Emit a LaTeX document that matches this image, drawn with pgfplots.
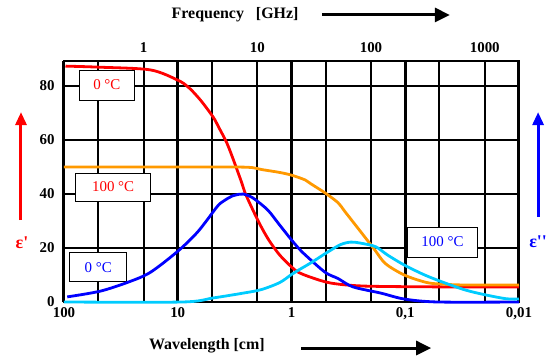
\documentclass[border=0pt]{standalone}
\usepackage{pgfplots}
\pgfplotsset{compat=1.18}
\usepackage{fontspec}
\setmainfont{Liberation Serif}
\usetikzlibrary{arrows.meta}
\definecolor{cOrange}{RGB}{255,153,0}
\definecolor{cCyan}{RGB}{0,204,255}
\begin{document}
\begin{tikzpicture}
\begin{axis}[name=ax,
  width=455bp, height=241bp, scale only axis,
  xmode=log, x dir=reverse, xmin=0.01, xmax=100, ymin=0, ymax=89.3,
  clip=false,
  xtick={100,10,1,0.1,0.01}, xticklabels={100,10,1,{0,1},{0,01}},
  minor xtick={50,20,5,2,0.5,0.2,0.05,0.02},
  ytick={0,20,40,60,80},
  xmajorgrids, xminorgrids, ymajorgrids,
  major x grid style={black, line width=3bp},
  minor x grid style={black, line width=2bp},
  major y grid style={black, line width=1.3bp},
  major tick length=0pt, minor tick length=0pt,
  axis line style={black, line width=2.6bp},
  /pgf/number format/assume math mode=true,
  tick label style={font=\bfseries\fontsize{15}{18}\selectfont},
  xticklabel style={yshift=-2.5bp},
  yticklabel style={xshift=-6bp},
]
\node[draw=black, line width=1bp, fill=white, minimum width=55bp, minimum height=30bp, inner sep=0pt, text=red, font=\fontsize{15}{18}\selectfont] at (axis cs:42,80.4) {0 °C};
\node[draw=black, line width=1bp, fill=white, minimum width=75bp, minimum height=28bp, inner sep=0pt, text=red, font=\fontsize{15}{18}\selectfont] at (axis cs:37,42.6) {100 °C};
\node[draw=black, line width=1bp, fill=white, minimum width=57bp, minimum height=29bp, inner sep=0pt, text=blue, font=\fontsize{15}{18}\selectfont] at (axis cs:50,12.8) {0 °C};
\node[draw=black, line width=1bp, fill=white, minimum width=70bp, minimum height=30bp, inner sep=0pt, text=blue, font=\fontsize{15}{18}\selectfont] at (axis cs:0.0471,22.2) {100 °C};

% eps' at 0 C
\addplot[red, line width=2.8bp, smooth, tension=0.5] coordinates {
(97,87.4) (48.2,87) (17.4,86) (10,82.2) (8.02,79.5) (6.31,74.8) (4.88,68.5) (4.37,64.8) (3.70,58.9) (3.19,51.9) (2.75,44.4) (2.51,39.6) (1.94,29.6) (1.585,23) (1.27,17.4) (1,13) (0.869,11) (0.670,9.1) (0.449,7) (0.228,5.9) (0.05,5.6) (0.01,5.6)};
% eps' at 100 C
\addplot[cOrange, line width=2.8bp, smooth, tension=0.5] coordinates {
(100,50) (10,50) (3,50) (2.21,49.8) (1.84,49.1) (1.27,48) (1,47) (0.755,45.2) (0.670,43.7) (0.506,40.4) (0.390,36.8) (0.339,33.5) (0.246,26) (0.186,19.4) (0.149,14.2) (0.102,10) (0.0674,7.4) (0.0515,6.7) (0.03,6.3) (0.01,6.3)};
% eps'' at 0 C
\addplot[blue, line width=2.8bp, smooth, tension=0.5] coordinates {
(93.6,1.9) (48.2,4) (27.1,7.4) (17.4,11) (10,18.8) (6.67,26) (4.61,34.8) (4.21,36.6) (3.63,38.4) (3.31,39.3) (2.9,39.9) (2.65,40) (2.33,39.2) (2.09,38) (1.61,34) (1.27,28.5) (1,23) (0.869,20) (0.755,17.4) (0.506,11) (0.390,8.7) (0.288,5.6) (0.164,3.3) (0.102,1.1) (0.0515,0) (0.01,0)};
% eps'' at 100 C
\addplot[cCyan, line width=2.8bp, smooth, tension=0.5] coordinates {
(100,0) (9.12,0) (4.88,1.5) (2.65,3.3) (1.84,4.6) (1.27,7.2) (1,10.2) (0.869,11.8) (0.670,14.6) (0.481,18.5) (0.369,21.3) (0.30,22.2) (0.246,21.8) (0.1824,20.5) (0.143,17.4) (0.102,13.7) (0.0674,10) (0.0444,7) (0.0294,4.4) (0.0195,2.6) (0.0129,1.2) (0.01,1.1)};

\node[font=\bfseries\fontsize{16}{19}\selectfont] at (axis description cs:0.376,1.191) {Frequency\ \ \ [GHz]};
\draw[line width=3bp, -{Triangle[length=15bp,width=14bp]}] (axis description cs:0.567,1.191) -- (axis description cs:0.848,1.191);
\node[font=\bfseries\fontsize{16}{19}\selectfont] at (axis description cs:0.314,-0.183) {Wavelength [cm]};
\draw[line width=3bp, -{Triangle[length=15bp,width=14bp]}] (axis description cs:0.521,-0.191) -- (axis description cs:0.807,-0.191);
\draw[red, line width=3bp, -{Triangle[length=13bp,width=11bp]}] (axis description cs:-0.0945,0.340) -- (axis description cs:-0.0945,0.788);
\node[red, font=\bfseries\fontsize{18}{21}\selectfont] at (axis description cs:-0.0923,0.245) {ε\textquotesingle};
\draw[blue, line width=3bp, -{Triangle[length=13bp,width=11bp]}] (axis description cs:1.042,0.353) -- (axis description cs:1.042,0.788);
\node[blue, font=\bfseries\fontsize{18}{21}\selectfont] at (axis description cs:1.042,0.249) {ε\textquotesingle\textquotesingle};
\end{axis}
\begin{axis}[
  width=455bp, height=241bp, scale only axis,
  xmode=log, x dir=reverse, xmin=0.01, xmax=100, ymin=0, ymax=89.3,
  axis x line*=top, axis y line=none,
  axis line style={draw=none},
  xtick={20,2,0.2,0.02}, xticklabels={1,10,100,1000},
  minor xtick={}, major tick length=0pt,
  tick label style={font=\bfseries\fontsize{15}{18}\selectfont},
  xticklabel style={yshift=5bp},
]
\end{axis}
\pgfresetboundingbox
\path ([shift={(-64bp,-62bp)}]ax.south west) rectangle ([shift={(41bp,61bp)}]ax.north east);
\end{tikzpicture}
\end{document}
